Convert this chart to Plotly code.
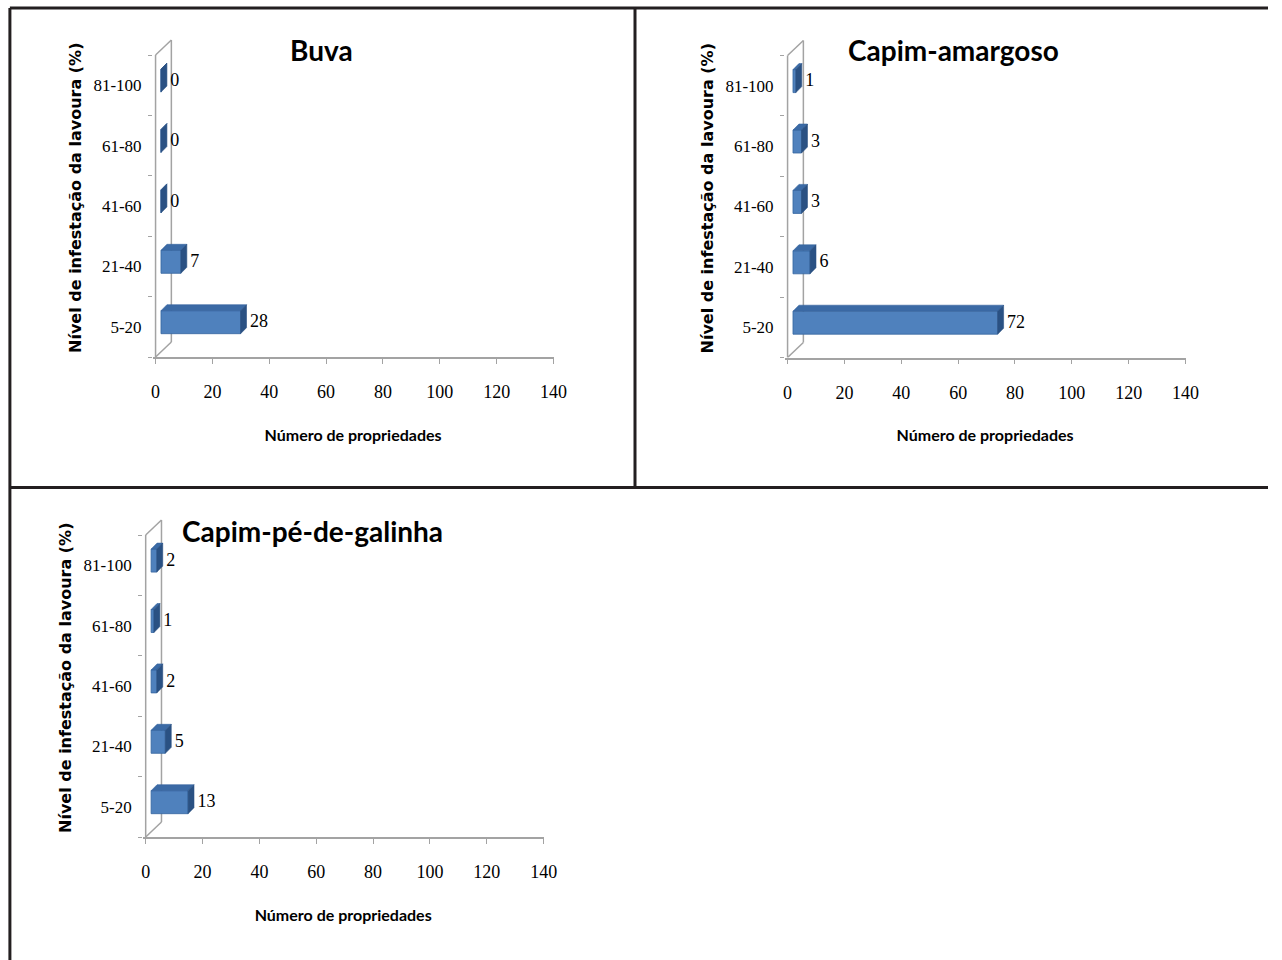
import plotly.graph_objects as go

# ---- data -------------------------------------------------------------
categories = ["5-20", "21-40", "41-60", "61-80", "81-100"]
buva = [28, 7, 0, 0, 0]
capim_amargoso = [72, 6, 3, 3, 1]
capim_pe_de_galinha = [13, 5, 2, 1, 2]
panel_titles = ["Buva", "Capim-amargoso", "Capim-pé-de-galinha"]
x_ticks = [0, 20, 40, 60, 80, 100, 120, 140]
x_title = "Número de propriedades"
y_title = "Nível de infestação da lavoura (%)"

# ---- page / geometry (pixels) ----------------------------------------
W, H = 1282, 960
X_MAX = 140
PLOT_W = 403.0          # px between value 0 and value 140
BAND = 60.4             # px per category band
WALL = (16.0, 15.0)     # back-wall offset (right, up)
BAR_SHIFT = (5.5, 4.6)  # bar front face offset from the front plane
BAR_DEPTH = (6.0, 6.0)  # bar depth (right, up)
BAR_H = 23.0
PAD_L, PAD_T = 3.0, 16.5

KX = X_MAX / PLOT_W     # data units per px (x)
KY = 1.0 / BAND         # data units per px (y)

FRONT = "#4f81bd"
TOP = "#3b6aa5"
SIDE = "#2a5183"
EDGE = "#35659f"
WALL_C = "#a3a3a3"
SERIF = "Liberation Serif"

panels = [
    dict(values=buva, title=panel_titles[0], x0=155.5, y0=357.0, title_xy=(324, 50)),
    dict(values=capim_amargoso, title=panel_titles[1], x0=795.5, y0=357.5, title_xy=(964, 50)),
    dict(values=capim_pe_de_galinha, title=panel_titles[2], x0=145.5, y0=837.0, title_xy=(314, 531)),
]

fig = go.Figure()
layout_axes = {}
annotations = []
shapes = []
n = len(categories)
idx = list(range(n))

for p, pan in enumerate(panels, start=1):
    xa = "x" if p == 1 else f"x{p}"
    ya = "y" if p == 1 else f"y{p}"
    vals = pan["values"]
    x0, y0 = pan["x0"], pan["y0"]

    # axes domains in paper units
    xd = [(x0 - PAD_L) / W, (x0 + PLOT_W) / W]
    top_px = y0 - n * BAND - PAD_T
    yd = [1 - y0 / H, 1 - top_px / H]

    wx, wy = WALL[0] * KX, WALL[1] * KY
    sx, sy = BAR_SHIFT[0] * KX, BAR_SHIFT[1] * KY
    dx, dy = BAR_DEPTH[0] * KX, BAR_DEPTH[1] * KY
    hh = BAR_H * KY / 2

    # walls (behind the bars): front edge, back edge and connecting diagonals
    wall = dict(type="line", xref=xa, yref=ya, layer="below",
                line=dict(color=WALL_C, width=1.5))
    shapes += [
        dict(wall, x0=0, x1=0, y0=-0.5, y1=n - 0.5),
        dict(wall, x0=wx, x1=wx, y0=-0.5 + wy, y1=n - 0.5 + wy),
        dict(wall, x0=0, x1=wx, y0=n - 0.5, y1=n - 0.5 + wy),
        dict(wall, x0=0, x1=wx, y0=-0.5, y1=-0.5 + wy),
    ]

    # front faces
    fig.add_trace(go.Bar(orientation="h", x=vals, y=[i + sy for i in idx],
                         base=sx, width=2 * hh,
                         marker=dict(color=FRONT, line=dict(color=EDGE, width=0.8)),
                         showlegend=False, xaxis=xa, yaxis=ya))

    # top and side faces
    tx, ty, rx, ry = [], [], [], []
    for i, v in zip(idx, vals):
        yc = i + sy
        yt, yb = yc + hh, yc - hh
        xl, xr = sx, sx + v
        tx += [xl, xr, xr + dx, xl + dx, xl, None]
        ty += [yt, yt, yt + dy, yt + dy, yt, None]
        rx += [xr, xr, xr + dx, xr + dx, xr, None]
        ry += [yb, yt, yt + dy, yb + dy, yb, None]
    fig.add_trace(go.Scatter(x=tx, y=ty, mode="lines", fill="toself",
                             fillcolor=TOP, line=dict(color=EDGE, width=0.6),
                             hoverinfo="skip", showlegend=False, xaxis=xa, yaxis=ya))
    fig.add_trace(go.Scatter(x=rx, y=ry, mode="lines", fill="toself",
                             fillcolor=SIDE, line=dict(color=SIDE, width=0.6),
                             hoverinfo="skip", showlegend=False, xaxis=xa, yaxis=ya))

    # value labels
    fig.add_trace(go.Scatter(x=[sx + v + dx + 3.5 * KX for v in vals],
                             y=[i + 4.0 * KY for i in idx],
                             mode="text", text=[str(v) for v in vals],
                             textposition="middle right",
                             textfont=dict(family=SERIF, size=18, color="black"),
                             hoverinfo="skip", showlegend=False, cliponaxis=False,
                             xaxis=xa, yaxis=ya))

    layout_axes["xaxis" if p == 1 else f"xaxis{p}"] = dict(
        domain=xd, range=[-PAD_L * KX, X_MAX], anchor=ya,
        tickvals=x_ticks, ticks="outside", ticklen=5, tickcolor=WALL_C,
        showline=True, linecolor=WALL_C, linewidth=1.5,
        showgrid=False, zeroline=False, ticklabelstandoff=13,
        tickfont=dict(family=SERIF, size=18, color="black"),
        title=dict(text=x_title, standoff=28,
                   font=dict(family="Lato", size=16, color="black", weight="bold")),
        fixedrange=True,
    )
    layout_axes["yaxis" if p == 1 else f"yaxis{p}"] = dict(
        domain=yd, range=[-0.5, n - 0.5 + PAD_T * KY], anchor=xa,
        tickvals=idx, ticktext=categories, ticks="",
        minor=dict(tickvals=[i - 0.5 for i in range(n + 1)], ticks="outside",
                   ticklen=4, tickcolor=WALL_C, showgrid=False),
        showline=False, showgrid=False, zeroline=False, ticklabelstandoff=10,
        tickfont=dict(family=SERIF, size=17, color="black"),
        title=dict(text=y_title, standoff=7,
                   font=dict(family="DejaVu Sans", size=16, color="black", weight="bold")),
        fixedrange=True,
    )

    tx_, ty_ = pan["title_xy"]
    annotations.append(dict(text=pan["title"], x=tx_ / W, y=1 - ty_ / H,
                            xref="paper", yref="paper", showarrow=False,
                            xanchor="center", yanchor="middle",
                            font=dict(family="Lato", size=28, color="black", weight="bold")))

# panel frame lines
frame = dict(type="line", xref="paper", yref="paper",
             line=dict(color="#231f20", width=3))
shapes += [
    dict(frame, x0=8 / W, x1=1, y0=1 - 8 / H, y1=1 - 8 / H),
    dict(frame, x0=8 / W, x1=8 / W, y0=1 - 8 / H, y1=0),
    dict(frame, x0=641 / W, x1=641 / W, y0=1 - 8 / H, y1=1 - 487.5 / H),
    dict(frame, x0=8 / W, x1=1, y0=1 - 487.5 / H, y1=1 - 487.5 / H),
]

fig.update_layout(
    width=W, height=H, autosize=False, margin=dict(l=0, r=0, t=0, b=0),
    paper_bgcolor="white", plot_bgcolor="rgba(0,0,0,0)",
    showlegend=False, barmode="overlay",
    annotations=annotations, shapes=shapes,
    **layout_axes,
)

# page without body margin or scrollbars, so the figure keeps its full size
page_css = ("document.documentElement.style.overflow='hidden';"
            "document.body.style.margin='0';"
            "document.body.style.overflow='hidden';")
fig.write_html("out.html", config={"displayModeBar": False, "responsive": False},
               post_script=page_css)
